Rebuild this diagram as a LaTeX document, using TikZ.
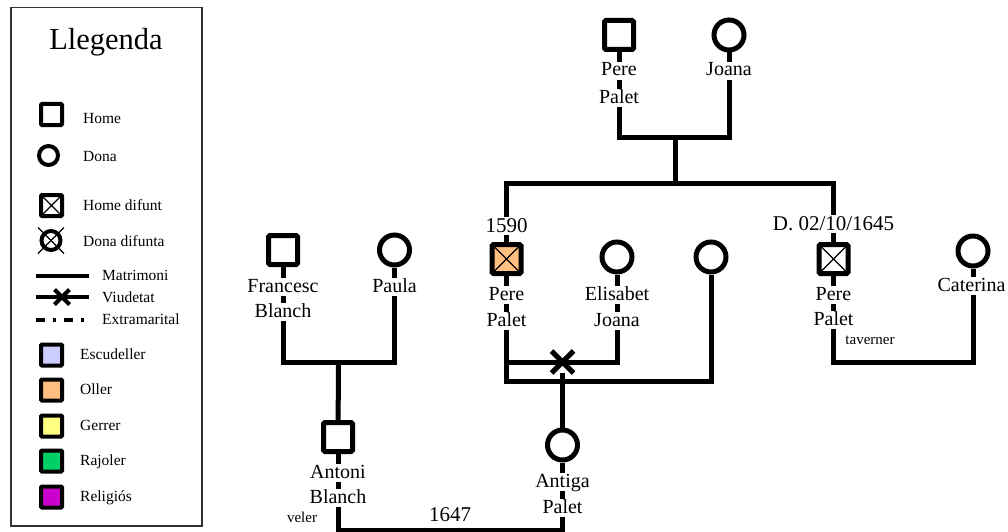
\documentclass[tikz,border=0pt]{standalone}
\usepackage{fontspec}
\setmainfont{Liberation Serif}
\usetikzlibrary{shapes.misc,backgrounds}
\definecolor{escudeller}{HTML}{CCCCFF}
\definecolor{oller}{HTML}{FFBF80}
\definecolor{gerrer}{HTML}{FFFF80}
\definecolor{rajoler}{HTML}{00D066}
\definecolor{religios}{HTML}{CC00CC}
\tikzset{
  man/.style={draw, line width=5pt, rounded corners=1.5pt, fill=white, minimum size=29pt, inner sep=0pt, rectangle},
  woman/.style={draw, line width=5pt, fill=white, circle, minimum size=30pt, inner sep=0pt},
  deadmark/.style={path picture={\draw[line width=1.2pt] (path picture bounding box.south west) -- (path picture bounding box.north east) (path picture bounding box.north west) -- (path picture bounding box.south east);}},
  lman/.style={draw, line width=4pt, rounded corners=1pt, fill=white, minimum size=21pt, inner sep=0pt, rectangle},
  lwoman/.style={draw, line width=4pt, fill=white, circle, minimum size=19pt, inner sep=0pt},
  pname/.style={font=\fontsize{20}{24}\selectfont, fill=white, inner sep=0pt, text height=14pt, text depth=4pt, anchor=base},
  datelbl/.style={font=\fontsize{21}{25}\selectfont, fill=white, inner sep=0pt, text height=15pt, text depth=3pt, anchor=base},
  smalllbl/.style={font=\fontsize{15}{18}\selectfont, inner sep=0pt, anchor=base},
  legtext/.style={font=\fontsize{15.5}{18}\selectfont, inner sep=0pt, anchor=base west},
  conn/.style={line width=5pt},
  legline/.style={line width=4pt},
  crossmark/.style={draw, cross out, line width=5pt, minimum size=17pt, inner sep=0pt},
}
\begin{document}
\begin{tikzpicture}[x=1pt,y=-1pt]
\useasboundingbox (0,0) rectangle (1008,532);
% ---------- Legend ----------
\node[draw=black!80, line width=1.5pt, minimum width=191pt, minimum height=518pt, anchor=north west, inner sep=0pt] (legbox) at (10,7) {};
\node[font=\fontsize{30.5}{34}\selectfont, anchor=base, inner sep=0pt] (legtitle) at (106,50) {Llegenda};
\node[lman] (lhome) at (51.5,114.5) {};
\node[legtext] (thome) at (83,124) {Home};
\node[lwoman] (ldona) at (48.5,155.5) {};
\node[legtext] (tdona) at (83,161) {Dona};
\node[lman, deadmark] (lhd) at (51.5,205.5) {};
\node[legtext] (thd) at (83,210) {Home difunt};
\node[lwoman] (ldd) at (51,240.5) {};
\draw[line width=1.2pt] (ldd.center) ++(-13,-13) coordinate (dda) -- ++(26,26) coordinate (ddb);
\draw[line width=1.2pt] (ldd.center) ++(13,-13) coordinate (ddc) -- ++(-26,26) coordinate (ddd);
\node[legtext] (tdd) at (83,246) {Dona difunta};
\coordinate (lm1) at (36,276); \coordinate (lm2) at (89,276);
\draw[legline] (lm1) -- (lm2);
\node[legtext] (tmat) at (102,280) {Matrimoni};
\coordinate (lv1) at (36,297); \coordinate (lv2) at (89,297);
\draw[legline] (lv1) -- (lv2);
\node[draw, cross out, line width=4pt, minimum size=11pt, inner sep=0pt] (lvx) at (62,297) {};
\node[legtext] (tviu) at (102,302) {Viudetat};
\coordinate (le1) at (36,320); \coordinate (le2) at (89,320);
\draw[legline, dash pattern=on 9pt off 8pt on 3pt off 8pt] (le1) -- (le2);
\node[legtext] (text) at (102,324) {Extramarital};
\node[lman, fill=escudeller] (lesc) at (51.5,355) {};
\node[legtext] (tesc) at (80,359) {Escudeller};
\node[lman, fill=oller] (loll) at (51.5,390) {};
\node[legtext] (toll) at (80,394) {Oller};
\node[lman, fill=gerrer] (lger) at (51.5,426) {};
\node[legtext] (tger) at (80,430) {Gerrer};
\node[lman, fill=rajoler] (lraj) at (51.5,461) {};
\node[legtext] (traj) at (80,465) {Rajoler};
\node[lman, fill=religios] (lrel) at (51.5,497) {};
\node[legtext] (trel) at (80,501) {Religiós};
% ---------- People ----------
\node[man] (pp) at (619,35) {};
\node[pname] (pp1) at (619,76) {Pere};
\node[pname] (pp2) at (619,103) {Palet};
\node[woman] (jo) at (729,35) {};
\node[pname] (jo1) at (729,76) {Joana};
\node[datelbl] (d1590) at (506.5,232) {1590};
\node[man, fill=oller, deadmark] (pa) at (506.5,259) {};
\node[pname] (pa1) at (506.5,300) {Pere};
\node[pname] (pa2) at (506.5,326) {Palet};
\node[woman] (el) at (617,257) {};
\node[pname] (el1) at (617,300) {Elisabet};
\node[pname] (el2) at (617,326) {Joana};
\node[woman] (w3) at (711,257) {};
\node[datelbl] (d1645) at (833.5,230) {D. 02/10/1645};
\node[man, deadmark] (pd) at (833.5,259) {};
\node[pname] (pd1) at (833.5,300) {Pere};
\node[pname] (pd2) at (833.5,325) {Palet};
\node[smalllbl] (tav) at (870,344) {taverner};
\node[woman] (ca) at (973,251) {};
\node[pname] (ca1) at (971.5,291) {Caterina};
\node[man] (fb) at (283,250) {};
\node[pname] (fb1) at (283,292) {Francesc};
\node[pname] (fb2) at (283,317) {Blanch};
\node[woman] (pl) at (394.5,250) {};
\node[pname] (pl1) at (394.5,292) {Paula};
\node[man] (ab) at (338,437) {};
\node[pname] (ab1) at (338,478) {Antoni};
\node[pname] (ab2) at (338,503) {Blanch};
\node[smalllbl] (vel) at (302,522) {veler};
\node[woman] (an) at (562.5,445) {};
\node[pname] (an1) at (562.5,487) {Antiga};
\node[pname] (an2) at (562.5,513) {Palet};
\node[datelbl] (d1647) at (450,521) {1647};
% junctions
\coordinate (m1) at (675,137);
\coordinate (s1) at (675,183);
\coordinate (m2) at (562.5,362);
\coordinate (m3) at (562.5,381);
\coordinate (m4) at (338.5,362);
\coordinate (m5) at (450,530);
\coordinate (m6) at (900,362);
\node[crossmark] (viu) at (m2) {};
% ---------- Connectors (behind) ----------
\begin{pgfonlayer}{background}
\draw[conn] (pp) |- (m1) -| (jo);
\draw[conn] (m1) -- (s1);
\draw[conn] (pa) |- (s1) -| (pd);
\draw[conn] (pa) |- (m2) -| (el);
\draw[conn] (pa) |- (m3) -| (w3);
\draw[conn] (viu) -- (an);
\draw[conn] (fb) |- (m4) -| (pl);
\draw[conn] (m4) -- (ab);
\draw[conn] (ab) |- (m5) -| (an);
\draw[conn] (pd) |- (m6) -| (ca);
\end{pgfonlayer}
\end{tikzpicture}
\end{document}
